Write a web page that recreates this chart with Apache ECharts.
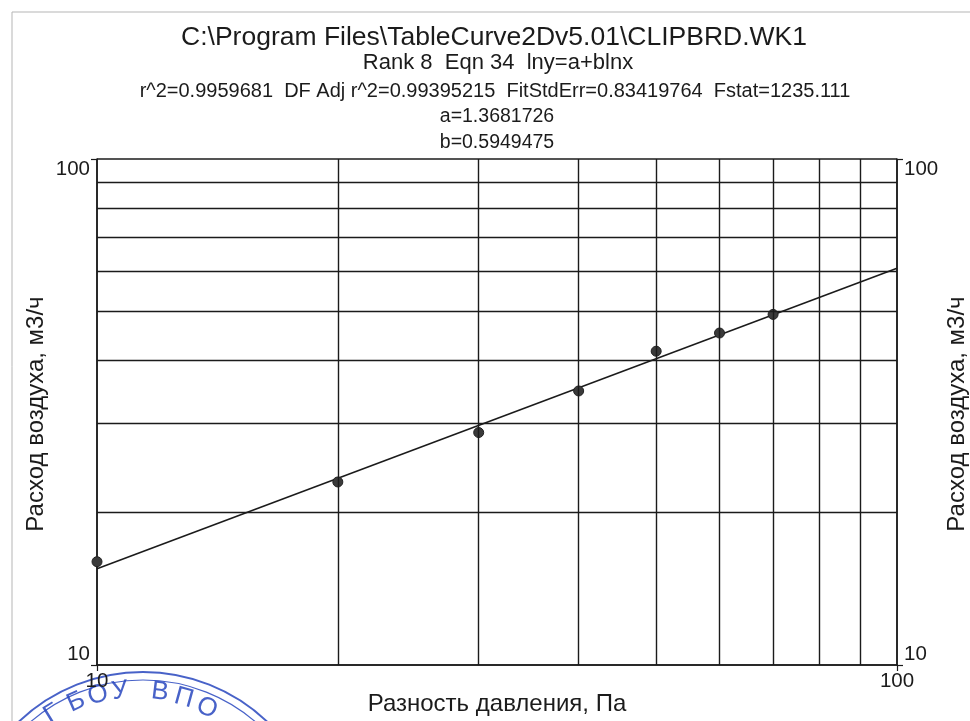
<!DOCTYPE html>
<html>
<head>
<meta charset="utf-8">
<script src="https://cdn.jsdelivr.net/npm/echarts@6/dist/echarts.min.js"></script>
<style>html,body{margin:0;padding:0;background:#fff;}#c{width:970px;height:721px;}</style>
</head>
<body>
<div id="c"></div>
<script>
// ---- data ----
var pressureDiff = [10, 20, 30, 40, 50, 60, 70];          // Разность давления, Па
var airFlow = [16.0, 23.0, 28.8, 34.8, 41.7, 45.3, 49.3];  // Расход воздуха, м3/ч
var fitLineX = [10, 100];
var fitLineY = [15.5, 60.8];
var gridValues = [20, 30, 40, 50, 60, 70, 80, 90];
var axisMin = 10, axisMax = 100;
var titleLines = [
  'C:\\Program Files\\TableCurve2Dv5.01\\CLIPBRD.WK1',
  'Rank 8  Eqn 34  lny=a+blnx',
  'r^2=0.9959681  DF Adj r^2=0.99395215  FitStdErr=0.83419764  Fstat=1235.111',
  'a=1.3681726',
  'b=0.5949475'
];
var xName = 'Разность давления, Па';
var yName = 'Расход воздуха, м3/ч';

// ---- chart ----
var FONT = '"Liberation Sans", Arial, sans-serif';
var INK = '#1b1b1b';
var chart = echarts.init(document.getElementById('c'), null, {renderer: 'canvas'});

var scatterData = pressureDiff.map(function (x, i) { return [x, airFlow[i]]; });
var fitData = fitLineX.map(function (x, i) { return [x, fitLineY[i]]; });
var markData = gridValues.map(function (v) { return {xAxis: v}; })
  .concat(gridValues.map(function (v) { return {yAxis: v}; }));

function txt(s, x, y, size, extra) {
  var o = {
    type: 'text', x: x, y: y, silent: true,
    style: {text: s, fill: INK, font: size + 'px ' + FONT, align: 'center', verticalAlign: 'middle'}
  };
  if (extra) for (var k in extra) o[k] = extra[k];
  return o;
}

var stampColor = 'rgba(40,70,190,0.85)';
var stampChars = [
  ['Г', 52, 714, 0.55], ['Б', 76, 702, 0.42], ['О', 98, 695, 0.28], ['У', 120, 691, 0.14],
  ['В', 160, 692, -0.12], ['П', 184, 698, -0.27], ['О', 207, 708, -0.42]
];

var graphics = [
  // page frame of the scan
  {type: 'line', silent: true, shape: {x1: 12, y1: 12, x2: 970, y2: 12}, style: {stroke: '#b5b5b5', lineWidth: 1}},
  {type: 'line', silent: true, shape: {x1: 12, y1: 12, x2: 12, y2: 721}, style: {stroke: '#b5b5b5', lineWidth: 1}},
  txt(titleLines[0], 494, 38, 26.5),
  txt(titleLines[1], 498, 63, 22),
  txt(titleLines[2], 495, 91, 20),
  txt(titleLines[3], 497, 117, 19.5),
  txt(titleLines[4], 497, 143, 19.5),
  txt(xName, 497, 704, 24),
  txt(yName, 36, 414, 24, {rotation: Math.PI / 2}),
  txt(yName, 957, 414, 24, {rotation: Math.PI / 2}),
  // stamp
  {type: 'circle', silent: true, shape: {cx: 143, cy: 852, r: 180}, style: {fill: null, stroke: stampColor, lineWidth: 2}},
  {type: 'circle', silent: true, shape: {cx: 143, cy: 852, r: 172}, style: {fill: null, stroke: stampColor, lineWidth: 1.2}}
];
stampChars.forEach(function (c) {
  graphics.push({type: 'text', silent: true, x: c[1], y: c[2], rotation: c[3],
    style: {text: c[0], fill: stampColor, font: '26px ' + FONT, align: 'center', verticalAlign: 'middle'}});
});

var axisCommon = {
  type: 'log', logBase: 10, min: axisMin, max: axisMax,
  axisLine: {show: true, lineStyle: {color: INK, width: 1.5}},
  axisTick: {show: true, length: 6, lineStyle: {color: INK, width: 1.2}},
  axisLabel: {color: INK, fontSize: 20.5, fontFamily: FONT, margin: 4},
  splitLine: {show: true, lineStyle: {color: INK, width: 1.5}},
  minorTick: {show: false}, minorSplitLine: {show: false}
};
function ax(extra) {
  var o = JSON.parse(JSON.stringify(axisCommon));
  for (var k in extra) {
    if (typeof extra[k] === 'object' && o[k]) { for (var j in extra[k]) o[k][j] = extra[k][j]; }
    else o[k] = extra[k];
  }
  return o;
}

var option = {
  backgroundColor: '#ffffff',
  animation: false,
  grid: {left: 97, right: 73, top: 159, bottom: 56, containLabel: false},
  xAxis: ax({position: 'bottom', axisLabel: {margin: 6}}),
  yAxis: [
    ax({position: 'left', axisLabel: {margin: 7, verticalAlignMinLabel: 'bottom', verticalAlignMaxLabel: 'top'}}),
    ax({position: 'right', splitLine: {show: false}, axisLabel: {margin: 7, verticalAlignMinLabel: 'bottom', verticalAlignMaxLabel: 'top'}})
  ],
  graphic: graphics,
  series: [
    {
      type: 'line', data: fitData, xAxisIndex: 0, yAxisIndex: 0,
      showSymbol: false, symbol: 'none',
      lineStyle: {color: INK, width: 1.6},
      markLine: {
        silent: true, symbol: ['none', 'none'], label: {show: false},
        lineStyle: {color: INK, width: 1.4, type: 'solid'},
        emphasis: {disabled: true},
        data: markData
      },
      z: 3
    },
    {
      type: 'scatter', data: scatterData, xAxisIndex: 0, yAxisIndex: 0,
      symbol: 'circle', symbolSize: 10,
      itemStyle: {color: '#3a3a3a', borderColor: '#222', borderWidth: 1, opacity: 1},
      z: 4
    }
  ]
};
chart.setOption(option);
</script>
</body>
</html>
